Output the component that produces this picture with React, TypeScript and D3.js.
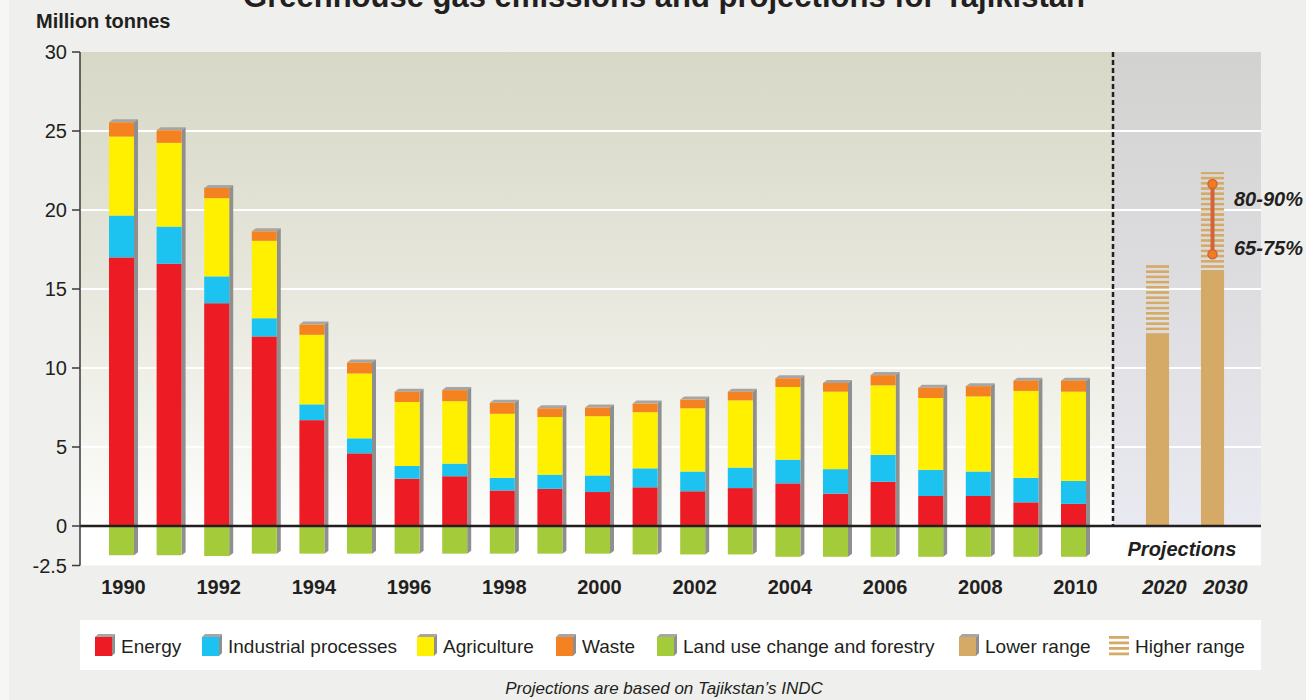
import React from "react";
import * as d3 from "d3";

// historic emissions, million tonnes CO2e
const years = [
  "1990", "1991", "1992", "1993", "1994", "1995", "1996", "1997", "1998", "1999", "2000",
  "2001", "2002", "2003", "2004", "2005", "2006", "2007", "2008", "2009", "2010",
];
const energy = [17.0, 16.6, 14.1, 12.0, 6.7, 4.6, 3.0, 3.15, 2.25, 2.35, 2.15, 2.45, 2.2, 2.4, 2.7, 2.05, 2.8, 1.9, 1.9, 1.5, 1.4];
const industrial = [2.65, 2.35, 1.7, 1.15, 1.0, 0.95, 0.8, 0.8, 0.8, 0.9, 1.05, 1.2, 1.25, 1.3, 1.5, 1.55, 1.7, 1.65, 1.55, 1.55, 1.45];
const agriculture = [5.0, 5.3, 4.95, 4.9, 4.4, 4.1, 4.05, 3.95, 4.05, 3.65, 3.75, 3.55, 4.0, 4.25, 4.6, 4.9, 4.4, 4.55, 4.75, 5.5, 5.65];
const waste = [0.9, 0.8, 0.65, 0.6, 0.65, 0.7, 0.65, 0.7, 0.7, 0.55, 0.55, 0.55, 0.55, 0.55, 0.55, 0.55, 0.65, 0.65, 0.65, 0.65, 0.7];
const landUse = [-1.85, -1.85, -1.9, -1.75, -1.75, -1.75, -1.75, -1.75, -1.75, -1.75, -1.75, -1.8, -1.8, -1.8, -1.95, -1.95, -1.95, -1.95, -1.95, -1.95, -1.95];

// projections
const projYears = ["2020", "2030"];
const lowerRange = [12.2, 16.2];
const higherRange = [16.6, 22.4];
const targetRange = [17.2, 21.65]; // 2030 markers
const targetLabels = ["65-75%", "80-90%"];

const yTicks = [30, 25, 20, 15, 10, 5, 0, -2.5];
const gridValues = [5, 10, 15, 20, 25];
const labelYears = ["1990", "1992", "1994", "1996", "1998", "2000", "2002", "2004", "2006", "2008", "2010"];

const seriesKeys = ["Energy", "Industrial processes", "Agriculture", "Waste"];
const seriesColors = ["#ed1c24", "#1cc3f0", "#fff000", "#f58220"];
const landColor = "#a4cc3a";
const rangeColor = "#d4aa66";

const legendItems = [
  { label: "Energy", color: seriesColors[0], x: 95 },
  { label: "Industrial processes", color: seriesColors[1], x: 202 },
  { label: "Agriculture", color: seriesColors[2], x: 417 },
  { label: "Waste", color: seriesColors[3], x: 556 },
  { label: "Land use change and forestry", color: landColor, x: 657 },
  { label: "Lower range", color: rangeColor, x: 959 },
  { label: "Higher range", color: "hatch", x: 1109 },
];

const FONT = "'Liberation Sans', Arial, Helvetica, sans-serif";
const TXT = "#231f20";

const W = 1306;
const H = 700;
const left = 80;
const right = 1261;
const dashX = 1113;
const SIDE = 4;
const TOP = 3;

const App: React.FC = () => {
  const y = d3.scaleLinear().domain([-2.5, 30]).range([565.5, 52]);
  const x = d3.scaleBand().domain(years).range([97.7, 1097.3]).paddingInner(0.475).paddingOuter(0.2375);
  const xp = d3.scaleBand().domain(projYears).range([1130, 1240]).paddingInner(0.58).paddingOuter(0.29);
  const bw = x.bandwidth();

  const rows = years.map((yr, i) => ({
    year: yr,
    Energy: energy[i],
    "Industrial processes": industrial[i],
    Agriculture: agriculture[i],
    Waste: waste[i],
  }));
  const stacked = d3.stack<any>().keys(seriesKeys)(rows);

  const y0 = y(0);

  return (
    <div style={{ position: "absolute", left: 0, top: 0 }}>
      <svg width={W} height={H} style={{ display: "block", fontFamily: FONT }}>
        <defs>
          <linearGradient id="plotBg" x1="0" y1="0" x2="0" y2="1">
            <stop offset="0%" stopColor="#d7d8c6" />
            <stop offset="45%" stopColor="#e5e5da" />
            <stop offset="80%" stopColor="#f4f4ef" />
            <stop offset="100%" stopColor="#fdfdfc" />
          </linearGradient>
          <linearGradient id="projBg" x1="0" y1="0" x2="0" y2="1">
            <stop offset="0%" stopColor="#d2d2d0" />
            <stop offset="100%" stopColor="#e9e9f1" />
          </linearGradient>
          <pattern id="hatch" patternUnits="userSpaceOnUse" width="8" height="5.2">
            <rect x="0" y="0" width="8" height="2.6" fill={rangeColor} />
          </pattern>
        </defs>

        <rect x={0} y={0} width={W} height={H} fill="#efefed" />
        <rect x={0} y={0} width={9} height={H} fill="#f6f6f5" />

        {/* title, partly cut at the top like the source */}
        <text x={664} y={7} textAnchor="middle" fontSize={31} fontWeight="bold" fill={TXT}>
          Greenhouse gas emissions and projections for Tajikistan
        </text>
        <text x={36} y={28} fontSize={20} fontWeight="bold" fill={TXT}>
          Million tonnes
        </text>

        {/* plot backgrounds */}
        <rect x={left} y={y(30)} width={dashX - left} height={y0 - y(30)} fill="url(#plotBg)" />
        <rect x={dashX} y={y(30)} width={right - dashX} height={y0 - y(30)} fill="url(#projBg)" />
        <rect x={left} y={y0} width={right - left} height={y(-2.5) - y0} fill="#ffffff" />

        {gridValues.map((v) => (
          <line key={v} x1={left} x2={right} y1={y(v)} y2={y(v)} stroke="#ffffff" strokeWidth={2} />
        ))}

        {/* historic stacked bars */}
        {years.map((yr, i) => {
          const bx = x(yr)!;
          const top = y(stacked[stacked.length - 1][i][1]);
          const bottom = y(landUse[i]);
          return (
            <g key={yr}>
              <polygon
                points={`${bx},${top} ${bx + SIDE},${top - TOP} ${bx + bw + SIDE},${top - TOP} ${bx + bw},${top}`}
                fill="#a6a6a6"
              />
              <polygon
                points={`${bx + bw},${top} ${bx + bw + SIDE},${top - TOP} ${bx + bw + SIDE},${bottom - TOP} ${bx + bw},${bottom}`}
                fill="#8f8f8f"
              />
              {stacked.map((s, k) => (
                <rect
                  key={s.key}
                  x={bx}
                  y={y(s[i][1])}
                  width={bw}
                  height={y(s[i][0]) - y(s[i][1])}
                  fill={seriesColors[k]}
                />
              ))}
              <rect x={bx} y={y0} width={bw} height={bottom - y0} fill={landColor} />
            </g>
          );
        })}

        {/* projections */}
        {projYears.map((yr, i) => {
          const bx = xp(yr)!;
          const w = xp.bandwidth();
          return (
            <g key={yr}>
              <rect x={bx} y={y(higherRange[i])} width={w} height={y(lowerRange[i]) - y(higherRange[i])} fill="url(#hatch)" />
              <rect x={bx} y={y(lowerRange[i])} width={w} height={y0 - y(lowerRange[i])} fill={rangeColor} />
            </g>
          );
        })}
        {(() => {
          const cx = xp("2030")! + xp.bandwidth() / 2;
          return (
            <g>
              <line x1={cx} x2={cx} y1={y(targetRange[0])} y2={y(targetRange[1])} stroke="#d2643a" strokeWidth={4} />
              {targetRange.map((v) => (
                <circle key={v} cx={cx} cy={y(v)} r={4.5} fill="#f47b20" stroke="#d2643a" strokeWidth={1.5} />
              ))}
              {targetRange.map((v, k) => (
                <text
                  key={targetLabels[k]}
                  x={1234}
                  y={y(v) + (k === 1 ? 22 : 1)}
                  fontSize={20}
                  fontWeight="bold"
                  fontStyle="italic"
                  fill={TXT}
                >
                  {targetLabels[k]}
                </text>
              ))}
            </g>
          );
        })()}

        {/* dashed separator */}
        <line x1={dashX} x2={dashX} y1={y(30)} y2={y0} stroke="#231f20" strokeWidth={2.5} strokeDasharray="5,3" />

        {/* zero line */}
        <line x1={left} x2={right} y1={y0} y2={y0} stroke="#231f20" strokeWidth={2.5} />

        {/* y axis */}
        <line x1={left} x2={left} y1={y(30)} y2={y(-2.5)} stroke="#3a3a3a" strokeWidth={1.5} />
        {yTicks.map((t) => (
          <g key={t}>
            <line x1={left - 8} x2={left} y1={y(t)} y2={y(t)} stroke="#3a3a3a" strokeWidth={1.5} />
            <text x={67} y={y(t) + 7} textAnchor="end" fontSize={20} fill={TXT}>
              {t}
            </text>
          </g>
        ))}

        {/* x labels */}
        {labelYears.map((yr) => (
          <text key={yr} x={x(yr)! + bw / 2 + 2} y={594} textAnchor="middle" fontSize={20} fontWeight="bold" fill={TXT}>
            {yr}
          </text>
        ))}
        {projYears.map((yr, i) => (
          <text
            key={yr}
            x={xp(yr)! + xp.bandwidth() / 2 + (i === 0 ? 7 : 13)}
            y={594}
            textAnchor="middle"
            fontSize={20}
            fontWeight="bold"
            fontStyle="italic"
            fill={TXT}
          >
            {yr}
          </text>
        ))}
        <text x={1182} y={556} textAnchor="middle" fontSize={20} fontWeight="bold" fontStyle="italic" fill={TXT}>
          Projections
        </text>

        {/* legend */}
        <rect x={left} y={620} width={right - left} height={50} fill="#ffffff" />
        {legendItems.map((it) => (
          <g key={it.label}>
            {it.color === "hatch" ? (
              <g>
                {[0, 1, 2, 3].map((k) => (
                  <rect key={k} x={it.x} y={636 + k * 5.5} width={20} height={2.8} fill={rangeColor} />
                ))}
              </g>
            ) : (
              <g>
                <polygon
                  points={`${it.x},${637} ${it.x + 3},${634} ${it.x + 20},${634} ${it.x + 17},${637}`}
                  fill="#a6a6a6"
                />
                <polygon
                  points={`${it.x + 17},${637} ${it.x + 20},${634} ${it.x + 20},${653} ${it.x + 17},${656}`}
                  fill="#8f8f8f"
                />
                <rect x={it.x} y={637} width={17} height={19} fill={it.color} />
              </g>
            )}
            <text x={it.x + 26} y={653} fontSize={19} fill={TXT}>
              {it.label}
            </text>
          </g>
        ))}

        <text x={664} y={694} textAnchor="middle" fontSize={17} fontStyle="italic" fill={TXT}>
          Projections are based on Tajikstan’s INDC
        </text>
      </svg>
    </div>
  );
};

export default App;
